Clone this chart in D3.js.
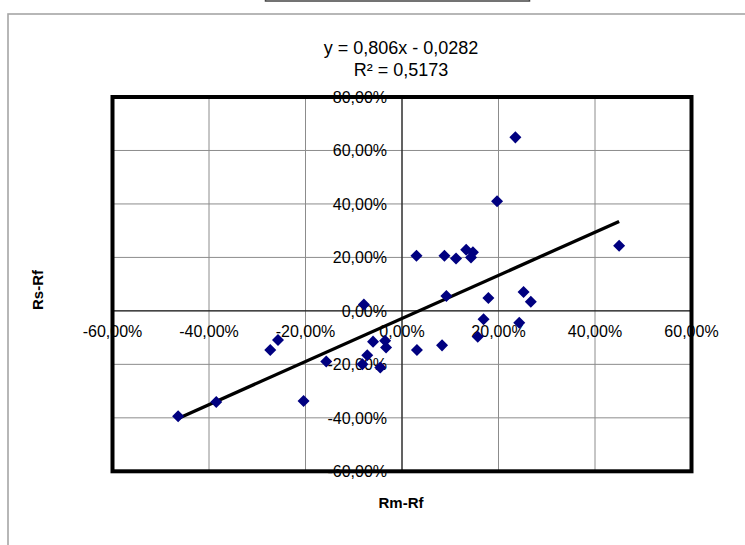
<!DOCTYPE html>
<html>
<head>
<meta charset="utf-8">
<script src="https://cdn.jsdelivr.net/npm/d3@7"></script>
<style>
  body { margin: 0; background: #fff; }
  text { font-family: "Liberation Sans", Arial, sans-serif; }
</style>
</head>
<body>
<svg id="chart" width="745" height="545"></svg>
<script>
// Rm-Rf (market excess return) and Rs-Rf (stock excess return)
var rmRf = [-0.464, -0.385, -0.273, -0.257, -0.204, -0.157, -0.079, -0.072, -0.082, -0.060,
            -0.045, -0.035, -0.033, 0.031, 0.083, 0.092, 0.179, 0.169, 0.157, 0.252,
            0.267, 0.243, 0.235, 0.197, 0.030, 0.088, 0.112, 0.133, 0.147, 0.143, 0.450];
var rsRf = [-0.394, -0.341, -0.146, -0.109, -0.337, -0.189, 0.024, -0.166, -0.200, -0.115,
            -0.212, -0.112, -0.137, -0.146, -0.129, 0.056, 0.048, -0.031, -0.097, 0.071,
            0.034, -0.044, 0.649, 0.410, 0.206, 0.206, 0.196, 0.229, 0.219, 0.200, 0.244];

var xTicks = [-0.6, -0.4, -0.2, 0, 0.2, 0.4, 0.6];
var yTicks = [-0.6, -0.4, -0.2, 0, 0.2, 0.4, 0.6, 0.8];

var trendSlope = 0.806;
var trendIntercept = -0.0282;
var trendLabel = ["y = 0,806x - 0,0282", "R² = 0,5173"];
var xTitle = "Rm-Rf";
var yTitle = "Rs-Rf";

var svg = d3.select("#chart");

var fmt = d3.formatLocale({decimal: ",", thousands: ".", grouping: [3], currency: ["", ""], minus: "-"}).format(".2%");

var x = d3.scaleLinear().domain([-0.6, 0.6]).range([112.5, 691.5]);
var y = d3.scaleLinear().domain([-0.6, 0.8]).range([471.3, 97]);

// chart area frame (partly outside the picture) and cut-off box at the top
svg.append("rect").attr("x", 8).attr("y", 14).attr("width", 800).attr("height", 600)
    .attr("fill", "none").attr("stroke", "#a6a6a6").attr("stroke-width", 1.6);
svg.append("rect").attr("x", 265.5).attr("y", -20).attr("width", 264).attr("height", 21)
    .attr("fill", "none").attr("stroke", "#444").attr("stroke-width", 1.5);

// plot area
svg.append("rect").attr("x", x(-0.6)).attr("y", y(0.8))
    .attr("width", x(0.6) - x(-0.6)).attr("height", y(-0.6) - y(0.8))
    .attr("fill", "#fff");

// gridlines
svg.append("g").selectAll("line").data(xTicks).join("line")
    .attr("x1", d => x(d)).attr("x2", d => x(d))
    .attr("y1", y(0.8)).attr("y2", y(-0.6))
    .attr("stroke", "#8c8c8c").attr("stroke-width", 1);
svg.append("g").selectAll("line").data(yTicks).join("line")
    .attr("x1", x(-0.6)).attr("x2", x(0.6))
    .attr("y1", d => y(d)).attr("y2", d => y(d))
    .attr("stroke", "#8c8c8c").attr("stroke-width", 1);

// zero axes
svg.append("line").attr("x1", x(-0.6)).attr("x2", x(0.6)).attr("y1", y(0)).attr("y2", y(0))
    .attr("stroke", "#000").attr("stroke-width", 1);
svg.append("line").attr("x1", x(0)).attr("x2", x(0)).attr("y1", y(0.8)).attr("y2", y(-0.6))
    .attr("stroke", "#000").attr("stroke-width", 1);

// tick labels, sitting next to the zero axes
svg.append("g").selectAll("text").data(xTicks).join("text")
    .attr("x", d => x(d)).attr("y", y(0) + 26)
    .attr("text-anchor", "middle").attr("font-size", 16)
    .text(d => fmt(d));
svg.append("g").selectAll("text").data(yTicks).join("text")
    .attr("x", x(0) - 15).attr("y", d => y(d) + 6)
    .attr("text-anchor", "end").attr("font-size", 16)
    .text(d => fmt(d));

// trend line
var xMin = d3.min(rmRf), xMax = d3.max(rmRf);
svg.append("line")
    .attr("x1", x(xMin)).attr("y1", y(trendSlope * xMin + trendIntercept))
    .attr("x2", x(xMax)).attr("y2", y(trendSlope * xMax + trendIntercept))
    .attr("stroke", "#000").attr("stroke-width", 3.3);

// points
var diamond = d3.symbol().type(d3.symbolDiamond2).size(92);
svg.append("g").selectAll("path").data(rmRf).join("path")
    .attr("d", diamond)
    .attr("transform", (d, i) => "translate(" + x(d) + "," + y(rsRf[i]) + ")")
    .attr("fill", "#000080");

// plot border
svg.append("rect").attr("x", x(-0.6)).attr("y", y(0.8))
    .attr("width", x(0.6) - x(-0.6)).attr("height", y(-0.6) - y(0.8))
    .attr("fill", "none").attr("stroke", "#000").attr("stroke-width", 4);

// trendline label
svg.append("g").selectAll("text").data(trendLabel).join("text")
    .attr("x", 401).attr("y", (d, i) => 54 + i * 22)
    .attr("text-anchor", "middle").attr("font-size", 18)
    .text(d => d);

// axis titles
svg.append("text").attr("x", 401).attr("y", 508)
    .attr("text-anchor", "middle").attr("font-size", 15).attr("font-weight", "bold")
    .text(xTitle);
svg.append("text").attr("transform", "translate(43,290) rotate(-90)")
    .attr("text-anchor", "middle").attr("font-size", 15).attr("font-weight", "bold")
    .text(yTitle);
</script>
</body>
</html>
